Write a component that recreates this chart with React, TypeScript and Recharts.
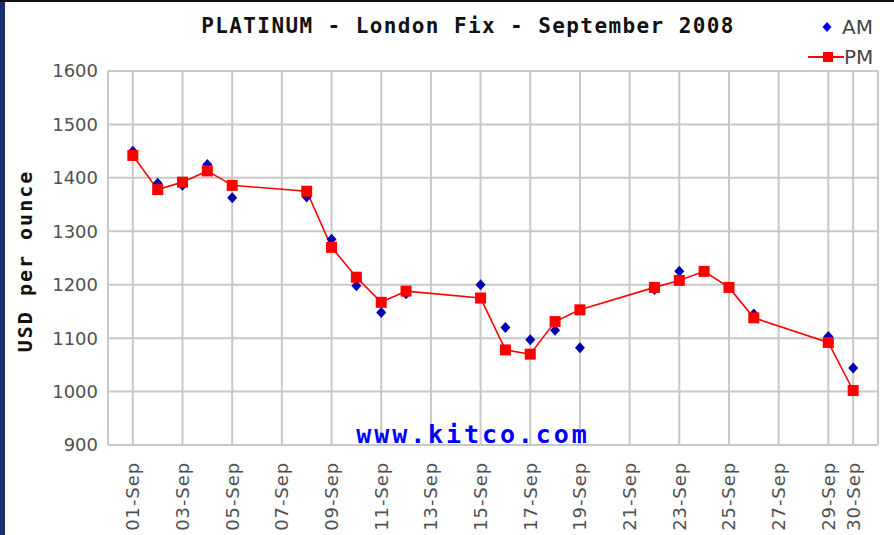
import React from 'react';
import {
  ComposedChart, Line, Scatter, XAxis, YAxis, CartesianGrid, ReferenceLine, Legend,
} from 'recharts';

const days = [1, 2, 3, 4, 5, 8, 9, 10, 11, 12, 15, 16, 17, 18, 19, 22, 23, 24, 25, 26, 29, 30];
const amValues = [1450, 1390, 1386, 1425, 1363, 1364, 1285, 1198, 1148, 1183, 1200, 1120, 1097, 1115, 1082, 1191, 1225, 1225, 1195, 1145, 1103, 1044];
const pmValues = [1442, 1378, 1392, 1413, 1386, 1375, 1270, 1214, 1167, 1188, 1175, 1078, 1070, 1131, 1153, 1195, 1208, 1225, 1195, 1138, 1092, 1002];
const xTicks = [1, 3, 5, 7, 9, 11, 13, 15, 17, 19, 21, 23, 25, 27, 29, 30];
const yTicks = [900, 1000, 1100, 1200, 1300, 1400, 1500, 1600];
const title = 'PLATINUM - London Fix - September 2008';
const yLabel = 'USD per ounce';
const watermark = 'www.kitco.com';

const data = days.map((d, i) => ({ day: d, am: amValues[i], pm: pmValues[i] }));

const GRID = '#c8c8c8';
const TICK_COLOR = '#505050';

const pad = (n: number) => (n < 10 ? '0' + n : String(n));

const XTick = (props: any) => {
  const { x, y, payload } = props;
  return (
    <g transform={`translate(${x},${y})`}>
      <text
        transform="rotate(-90)"
        x={-9}
        y={0}
        dy="0.36em"
        textAnchor="end"
        fontFamily="DejaVu Sans"
        fontSize={18}
        letterSpacing={0.9}
        fill={TICK_COLOR}
      >
        {pad(payload.value) + '-Sep'}
      </text>
    </g>
  );
};

const Diamond = (props: any) => {
  const { cx, cy } = props;
  if (cx == null || cy == null) return null;
  return <path d={`M${cx},${cy - 5.5} L${cx + 5},${cy} L${cx},${cy + 5.5} L${cx - 5},${cy} Z`} fill="#0000b0" />;
};

const SquareDot = (props: any) => {
  const { cx, cy, index } = props;
  if (cx == null || cy == null) return <g key={index} />;
  return <rect key={index} x={cx - 5.5} y={cy - 5.5} width={11} height={11} fill="#ff0000" />;
};

const LegendContent = () => (
  <div style={{ fontFamily: 'DejaVu Sans', fontSize: 20, color: '#444' }}>
    <div style={{ display: 'flex', alignItems: 'center', height: 30 }}>
      <svg width={36} height={20}>
        <path d="M21,5 L25.5,10 L21,15 L16.5,10 Z" fill="#0000ff" />
      </svg>
      <span style={{ marginLeft: 0 }}>AM</span>
    </div>
    <div style={{ display: 'flex', alignItems: 'center', height: 30 }}>
      <svg width={38} height={20}>
        <line x1={2} y1={10} x2={38} y2={10} stroke="#ff0000" strokeWidth={2} />
        <rect x={17} y={5} width={10} height={10} fill="#ff0000" />
      </svg>
      <span>PM</span>
    </div>
  </div>
);

export default function App() {
  return (
    <div style={{ position: 'absolute', left: 0, top: 0, width: 894, height: 535, background: '#fff', overflow: 'hidden' }}>
      <div style={{ position: 'absolute', left: 0, top: 0, width: 5, height: 535, background: '#1b2f6c' }} />
      <div style={{ position: 'absolute', left: 0, top: 0, width: 894, height: 2, background: '#111' }} />
      <div style={{ position: 'absolute', left: 0, top: 0 }}>
        <ComposedChart
          width={894}
          height={535}
          data={data}
          margin={{ top: 71, right: 16, bottom: 0, left: 48 }}
        >
          <CartesianGrid stroke={GRID} strokeWidth={2} />
          <XAxis
            dataKey="day"
            type="number"
            domain={[0, 31]}
            ticks={xTicks}
            interval={0}
            height={90}
            axisLine={{ stroke: GRID, strokeWidth: 2 }}
            tickLine={false}
            tick={<XTick />}
          />
          <YAxis
            type="number"
            domain={[900, 1600]}
            ticks={yTicks}
            interval={0}
            width={60}
            axisLine={{ stroke: GRID, strokeWidth: 2 }}
            tickLine={false}
            tickSize={0}
            tickMargin={10}
            tick={{ fontFamily: 'DejaVu Sans', fontSize: 18, fill: TICK_COLOR }}
          />
          <ReferenceLine x={31} stroke={GRID} strokeWidth={2} />
          <ReferenceLine y={1600} stroke={GRID} strokeWidth={2} />
          <Legend
            layout="horizontal"
            verticalAlign="middle"
            align="center"
            content={<LegendContent />}
            wrapperStyle={{ position: 'absolute', left: 806, top: 12, width: 86 }}
          />
          <Line
            dataKey="pm"
            name="PM"
            stroke="#ff0000"
            strokeWidth={1.6}
            dot={<SquareDot />}
            activeDot={false}
            isAnimationActive={false}
          />
          <Scatter dataKey="am" name="AM" shape={<Diamond />} isAnimationActive={false} />
        </ComposedChart>
      </div>
      <svg width={894} height={535} style={{ position: 'absolute', left: 0, top: 0, pointerEvents: 'none' }}>
        <text x={468} y={33} textAnchor="middle" fontFamily="DejaVu Sans Mono" fontWeight="bold" fontSize={21} letterSpacing={1.4} fill="#111">
          {title}
        </text>
        <text
          transform="translate(25,261) rotate(-90)"
          textAnchor="middle"
          dy="0.36em"
          fontFamily="DejaVu Sans Mono"
          fontWeight="bold"
          fontSize={20}
          letterSpacing={2}
          fill="#111"
        >
          {yLabel}
        </text>
        <text x={473} y={443} textAnchor="middle" fontFamily="DejaVu Sans Mono" fontWeight="bold" fontSize={25} letterSpacing={2.9} fill="#0000ff">
          {watermark}
        </text>
      </svg>
    </div>
  );
}
